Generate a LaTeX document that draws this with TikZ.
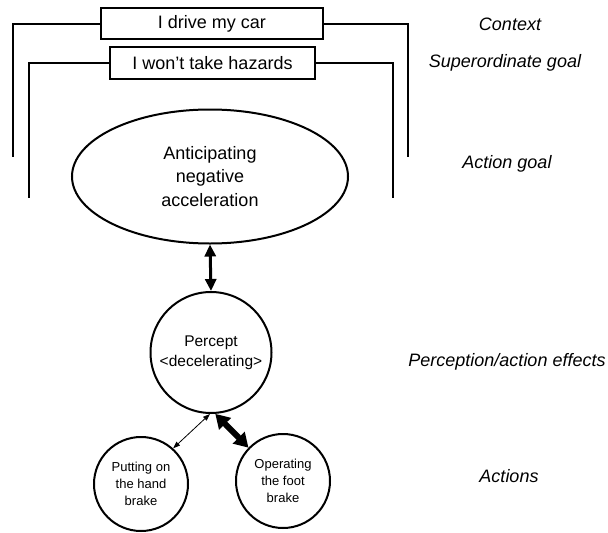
\documentclass[tikz,border=0pt]{standalone}
\usepackage{fontspec}
\setmainfont{Liberation Sans}
\usetikzlibrary{shapes.geometric,arrows.meta}

\tikzset{
  frame/.style={line width=2pt},
  labelbox/.style={draw, line width=2pt, inner sep=0pt, minimum height=31pt,
    font=\fontsize{18}{22}\selectfont},
  goal/.style={draw, ellipse, line width=2pt, inner sep=0pt, align=center,
    minimum width=276pt, minimum height=134pt, font=\fontsize{18}{23.5}\selectfont},
  percept/.style={draw, circle, line width=2pt, inner sep=0pt, align=center,
    minimum size=121pt, font=\fontsize{15.5}{20}\selectfont},
  action/.style={draw, circle, line width=2pt, inner sep=0pt, align=center,
    minimum size=94pt, font=\fontsize{13}{17}\selectfont},
  level/.style={font=\fontsize{18}{22}\selectfont\itshape},
  link/.style={line width=3pt, {Triangle[width=11pt,length=12pt]}-{Triangle[width=11pt,length=12pt]}},
  thinlink/.style={line width=0.8pt, {Triangle[width=5pt,length=7pt]}-{Triangle[width=5pt,length=7pt]}},
  thicklink/.style={line width=6pt, {Triangle[width=16pt,length=14pt]}-{Triangle[width=16pt,length=14pt]}},
}

\begin{document}
\begin{tikzpicture}[x=1pt,y=-1pt]
\useasboundingbox (0,0) rectangle (608,533);

% context and superordinate goal boxes
\node[labelbox, minimum width=222pt] (ctx) at (212,23.5) {I drive my car};
\node[labelbox, minimum width=205pt, minimum height=32pt] (sup) at (212.5,63) {I won’t take hazards};

% brackets hanging from the boxes
\coordinate (ctxL) at (13,157);
\coordinate (ctxR) at (408,157);
\coordinate (supL) at (29,198);
\coordinate (supR) at (393,198);
\draw[frame] (ctx.west) -| (ctxL);
\draw[frame] (ctx.east) -| (ctxR);
\draw[frame] (sup.west) -| (supL);
\draw[frame] (sup.east) -| (supR);

% action goal, percept and actions
\node[goal] (goal) at (210,176.5) {Anticipating\\negative\\acceleration};
\node[percept] (perc) at (211,352.5) {Percept\\<decelerating>};
\node[action] (hand) at (141,484) {Putting on\\the hand\\brake};
\node[action] (foot) at (283,481) {Operating\\the foot\\brake};

% connectors
\draw[link] (goal.south) -- (perc.north);
\draw[thinlink] (perc.-91) -- (hand.48);
\draw[thicklink] (perc.-86) -- (foot.136);

% level labels
\node[level] (l1) at (510,24) {Context};
\node[level] (l2) at (505,63) {Superordinate goal};
\node[level] (l3) at (507,164) {Action goal};
\node[level] (l4) at (507,362) {Perception/action effects};
\node[level] (l5) at (509,476) {Actions};
\end{tikzpicture}
\end{document}
